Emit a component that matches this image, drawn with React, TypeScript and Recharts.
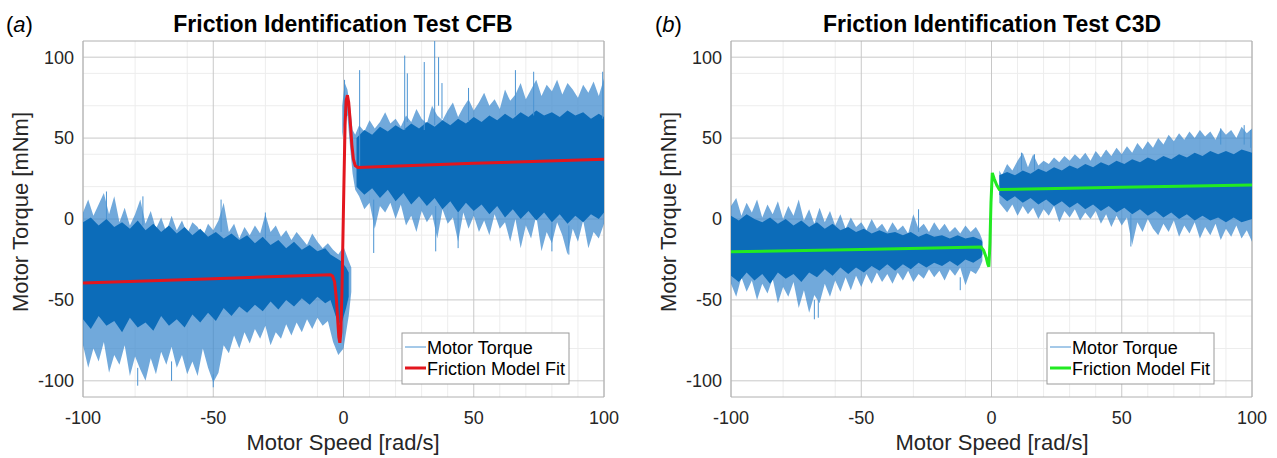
import React from 'react';
import { ComposedChart, Area, Line, XAxis, YAxis, CartesianGrid } from 'recharts';

// ---------- axes ----------
const X_TICKS = [-100, -50, 0, 50, 100];
const Y_TICKS = [-100, -50, 0, 50, 100];
const X_MINOR = [-90, -80, -70, -60, -40, -30, -20, -10, 10, 20, 30, 40, 60, 70, 80, 90];
const Y_MINOR = [-90, -80, -70, -60, -40, -30, -20, -10, 10, 20, 30, 40, 60, 70, 80, 90];
const X_EDGE = [-100, 100];
const Y_EDGE = [-110, 110];

const TITLE_A = 'Friction Identification Test CFB';
const TITLE_B = 'Friction Identification Test C3D';
const X_LABEL = 'Motor Speed [rad/s]';
const Y_LABEL = 'Motor Torque [mNm]';
const LEGEND_ITEMS = ['Motor Torque', 'Friction Model Fit'];

// ---------- panel (a) CFB ----------
// friction model fit [speed, torque]
const FIT_A: number[][] = [
  [-100, -39.5], [-50, -36.9], [-5, -34.4], [-4.2, -35.2], [-3.4, -39], [-2.7, -50], [-2.2, -63],
  [-1.8, -73], [-1.4, -76.5], [-1.0, -70], [-0.6, -45], [-0.2, -10], [0.2, 25], [0.6, 58],
  [1.0, 73], [1.5, 76.5], [2.0, 72], [2.6, 60], [3.2, 46], [3.8, 37], [4.5, 33], [5.5, 31.8],
  [50, 34.4], [100, 37],
];
// measured torque, outer envelope [speed, low, high]
const OUTER_A_NEG: number[][] = [
  [-100, -78, 4], [-98, -92, 12], [-96, -80, 2], [-94, -88, 9], [-92, -76, 16], [-90, -95, 3],
  [-88, -84, 14], [-86, -90, -2], [-84, -78, 7], [-82, -97, -4], [-80, -85, 3], [-78, -93, 12],
  [-76, -100, -3], [-74, -86, 5], [-72, -96, -6], [-70, -82, 1], [-68, -90, -8], [-66, -79, 2],
  [-64, -92, -7], [-62, -84, -1], [-60, -96, -9], [-58, -88, -2], [-56, -97, -5], [-54, -80, -11],
  [-52, -92, -3], [-50, -101, -7], [-48, -95, -1], [-46, -78, 10], [-44, -83, -8], [-42, -72, -3],
  [-40, -80, -12], [-38, -70, -5], [-36, -77, -10], [-34, -68, -4], [-32, -74, -9], [-30, -66, 3],
  [-28, -78, -8], [-26, -70, -4], [-24, -74, -11], [-22, -65, -7], [-20, -72, -13], [-18, -64, -8],
  [-16, -70, -12], [-14, -62, -16], [-12, -68, -9], [-10, -61, -14], [-8, -66, -18], [-6, -63, -15],
  [-4, -76, -19], [-2, -84, -22], [0, -80, -17], [2, -60, -26], [3, -45, -30],
];
// dense part of the measured torque [speed, low, high]
const CORE_A_NEG: number[][] = [
  [-100, -62, -2], [-97, -68, 1], [-94, -60, -4], [-91, -66, 0], [-88, -63, -5], [-85, -70, -2],
  [-82, -61, -6], [-79, -67, -1], [-76, -64, -7], [-73, -69, -3], [-70, -60, -8], [-67, -66, -4],
  [-64, -62, -9], [-61, -67, -5], [-58, -59, -10], [-55, -64, -6], [-52, -58, -11], [-49, -63, -8],
  [-46, -55, -12], [-43, -60, -9], [-40, -54, -13], [-37, -58, -10], [-34, -53, -15], [-31, -57, -11],
  [-28, -51, -16], [-25, -56, -13], [-22, -50, -18], [-19, -54, -14], [-16, -49, -19], [-13, -53, -16],
  [-10, -48, -20], [-7, -52, -18], [-5, -50, -22], [-3, -60, -24], [-1, -66, -26], [1, -55, -30],
  [2, -48, -33],
];
const OUTER_A_POS: number[][] = [
  [-0.5, 50, 70], [0.5, 62, 84], [1.5, 64, 80], [2.5, 45, 70], [3.5, 28, 55], [4.5, 18, 52],
  [6, 14, 58], [8, 6, 54], [10, 10, 61], [12, -6, 56], [14, 8, 60], [16, 4, 66], [18, 10, 59],
  [20, 0, 62], [22, 9, 57], [24, -4, 64], [26, 2, 60], [28, -8, 68], [30, 5, 62], [32, -2, 59],
  [34, 3, 70], [36, -12, 64], [38, 6, 61], [40, -3, 67], [42, 1, 72], [44, -14, 63], [46, 4, 69],
  [48, -6, 74], [50, 2, 67], [52, -8, 72], [54, -1, 78], [56, -10, 70], [58, 3, 74], [60, -6, 68],
  [62, -2, 80], [64, -14, 73], [66, 0, 77], [68, -18, 84], [70, -4, 74], [72, -12, 80], [74, 2, 86],
  [76, -20, 76], [78, -8, 83], [80, -15, 79], [82, -2, 86], [84, -10, 77], [86, -22, 84], [88, -6, 80],
  [90, -14, 75], [92, -1, 83], [94, -18, 78], [96, -8, 85], [98, -12, 76], [100, -3, 87],
];
const CORE_A_POS: number[][] = [
  [5, 20, 50], [8, 15, 55], [11, 19, 52], [14, 13, 57], [17, 18, 54], [20, 11, 58], [23, 16, 55],
  [26, 9, 59], [29, 14, 56], [32, 8, 60], [35, 13, 57], [38, 6, 61], [41, 11, 58], [44, 4, 62],
  [47, 10, 59], [50, 5, 63], [53, 9, 60], [56, 3, 64], [59, 8, 61], [62, 1, 65], [65, 6, 62],
  [68, 0, 66], [71, 5, 63], [74, -1, 67], [77, 4, 64], [80, -2, 66], [83, 3, 63], [86, -3, 67],
  [89, 2, 64], [92, -2, 66], [95, 3, 62], [98, 0, 65], [100, 4, 63],
];
// isolated excursions [speed, from, to]
const SPIKES_A: number[][] = [
  [-91, 0, 17], [-77, -4, 14], [-47, -8, 12], [-30, -12, 4], [-79, -92, -103], [-50, -96, -104],
  [-66, -88, -100], [0.4, 66, 86], [6.2, 32, 92], [11.6, -21, 12], [23.5, 55, 101], [24.5, 60, 90],
  [31, 55, 97], [35, 58, 113], [36.5, 70, 100], [37.8, 62, 84], [35.4, -20, 8], [48, 60, 81],
  [66, 64, 92], [73, 64, 91], [99.5, 62, 91], [44, -18, 4], [80, -20, -2], [86.5, -22, -4],
];

// ---------- panel (b) C3D ----------
const FIT_B: number[][] = [
  [-100, -20.3], [-50, -18.8], [-4, -17.3], [-3, -19.5], [-2, -24], [-1.4, -28], [-1, -29.5],
  [-0.6, -15], [-0.2, 10], [0.3, 28.5], [1, 25], [2, 21], [3, 18.2], [50, 19.6], [100, 21],
];
const OUTER_B_NEG: number[][] = [
  [-100, -40, 8], [-98, -48, 13], [-96, -36, 2], [-94, -45, 10], [-92, -38, 4], [-90, -50, 12],
  [-88, -40, 1], [-86, -46, 9], [-84, -37, 3], [-82, -52, 11], [-80, -42, 0], [-78, -48, 8],
  [-76, -39, 2], [-74, -55, 12], [-72, -44, -1], [-70, -58, 6], [-68, -47, -3], [-66, -52, 7],
  [-64, -40, -2], [-62, -48, 5], [-60, -38, -4], [-58, -45, 3], [-56, -36, -6], [-54, -44, 1],
  [-52, -35, -5], [-50, -42, -2], [-48, -34, -7], [-46, -40, 0], [-44, -33, -6], [-42, -39, -3],
  [-40, -34, -8], [-38, -40, -2], [-36, -33, -7], [-34, -38, -4], [-32, -32, -9], [-30, -39, 3],
  [-28, -34, -6], [-26, -37, -3], [-24, -31, -8], [-22, -36, -2], [-20, -32, -7], [-18, -38, -3],
  [-16, -31, -8], [-14, -35, -5], [-12, -30, -9], [-10, -41, -4], [-8, -32, -8], [-6, -34, -5],
  [-4.5, -30, -9], [-3.5, -26, -13],
];
const CORE_B_NEG: number[][] = [
  [-100, -35, 2], [-97, -39, -1], [-94, -33, 3], [-91, -38, 0], [-88, -34, -2], [-85, -40, 1],
  [-82, -33, -3], [-79, -37, 0], [-76, -34, -4], [-73, -39, -1], [-70, -33, -5], [-67, -36, -2],
  [-64, -31, -6], [-61, -35, -3], [-58, -30, -7], [-55, -34, -5], [-52, -30, -8], [-49, -33, -6],
  [-46, -29, -9], [-43, -32, -7], [-40, -28, -9], [-37, -32, -8], [-34, -28, -10], [-31, -31, -8],
  [-28, -27, -11], [-25, -30, -9], [-22, -27, -11], [-19, -29, -10], [-16, -26, -12], [-13, -29, -10],
  [-10, -25, -12], [-7, -27, -11], [-4, -24, -13], [-3.5, -22, -14],
];
const OUTER_B_POS: number[][] = [
  [3, 10, 30], [4, 8, 27], [6, 4, 34], [8, 9, 30], [10, 2, 36], [12, 8, 41], [14, 3, 32],
  [16, 7, 40], [18, 0, 33], [20, 6, 36], [22, 2, 34], [24, 8, 38], [26, -2, 35], [28, 5, 39],
  [30, 1, 36], [32, 6, 40], [34, -1, 37], [36, 4, 41], [38, 0, 36], [40, 5, 42], [42, -3, 38],
  [44, 3, 43], [46, -5, 39], [48, 2, 44], [50, -4, 40], [52, 1, 45], [54, -16, 41], [56, -2, 47],
  [58, -8, 43], [60, 0, 48], [62, -6, 44], [64, -10, 50], [66, -3, 46], [68, -8, 52], [70, -1, 48],
  [72, -11, 53], [74, -4, 49], [76, -9, 54], [78, -2, 50], [80, -12, 55], [82, -5, 51], [84, -10, 54],
  [86, -3, 49], [88, -13, 56], [90, -6, 52], [92, -11, 55], [94, -4, 50], [96, -12, 57], [98, -7, 53],
  [100, -14, 56],
];
const CORE_B_POS: number[][] = [
  [3, 15, 27], [6, 11, 29], [9, 14, 27], [12, 10, 30], [15, 13, 28], [18, 9, 31], [21, 12, 29],
  [24, 8, 32], [27, 11, 30], [30, 7, 33], [33, 10, 31], [36, 6, 34], [39, 9, 32], [42, 5, 35],
  [45, 8, 33], [48, 4, 36], [51, 7, 34], [54, 3, 37], [57, 6, 35], [60, 2, 38], [63, 5, 36],
  [66, 1, 39], [69, 4, 37], [72, 0, 40], [75, 3, 38], [78, -1, 41], [81, 2, 39], [84, -1, 42],
  [87, 1, 40], [90, -2, 42], [93, 1, 40], [96, -2, 43], [100, 0, 41],
];
const SPIKES_B: number[][] = [
  [-68, -50, -62], [-66.5, -50, -61], [-28, -8, 6], [-12, -36, -44], [11.5, 30, 41], [16.5, 30, 40],
  [53.5, -17, 3], [88, 46, 56], [97, 46, 58], [99.5, 44, 55],
];

// ---------- styling ----------
const FONT = '"Liberation Sans", Arial, Helvetica, sans-serif';
const CORE_BLUE = '#0c6cb9';
const OUTER_BLUE = '#3a88cd';
const SPIKE_BLUE = '#4b93d2';
const RED = '#e3161e';
const GREEN = '#22ea22';
const TXT = '#262626';

const toRange = (rows: number[][]) => rows.map(([x, lo, hi]) => ({ x, r: [lo, hi] }));
const toLine = (rows: number[][]) => rows.map(([x, y]) => ({ x, y }));
const toSpikes = (rows: number[][]) => {
  const out: { x: number; y: number | null }[] = [];
  rows.forEach(([x, a, b]) => {
    out.push({ x, y: a });
    out.push({ x, y: b });
    out.push({ x, y: null });
  });
  return out;
};

type PanelProps = {
  width: number;
  axisWidth: number;
  marginRight: number;
  fit: number[][];
  fitColor: string;
  outerNeg: number[][];
  coreNeg: number[][];
  outerPos: number[][];
  corePos: number[][];
  spikes: number[][];
};

function Panel(p: PanelProps) {
  return (
    <ComposedChart
      width={p.width}
      height={458}
      margin={{ top: 41, right: p.marginRight, bottom: 0, left: 0 }}
      style={{ fontFamily: FONT }}
    >
      <CartesianGrid verticalValues={X_MINOR} horizontalValues={Y_MINOR} stroke="#ededed" strokeWidth={1} />
      <CartesianGrid verticalValues={X_TICKS} horizontalValues={Y_TICKS} stroke="#c8c8c8" strokeWidth={1} />
      <CartesianGrid verticalValues={X_EDGE} horizontalValues={Y_EDGE} stroke="#b0b0b0" strokeWidth={1} />
      <XAxis
        type="number"
        dataKey="x"
        domain={[-100, 100]}
        ticks={X_TICKS}
        allowDataOverflow
        height={61}
        axisLine={false}
        tickLine={false}
        tickSize={0}
        tickMargin={14}
        tick={{ fontSize: 18, fill: TXT, fontFamily: FONT }}
      />
      <YAxis
        type="number"
        domain={[-110, 110]}
        ticks={Y_TICKS}
        allowDataOverflow
        width={p.axisWidth}
        axisLine={false}
        tickLine={false}
        tickSize={0}
        tickMargin={9}
        tick={{ fontSize: 18, fill: TXT, fontFamily: FONT }}
      />
      <Area data={toRange(p.outerNeg)} dataKey="r" type="linear" stroke="none" fill={OUTER_BLUE} fillOpacity={0.72} isAnimationActive={false} dot={false} activeDot={false} />
      <Area data={toRange(p.outerPos)} dataKey="r" type="linear" stroke="none" fill={OUTER_BLUE} fillOpacity={0.72} isAnimationActive={false} dot={false} activeDot={false} />
      <Area data={toRange(p.coreNeg)} dataKey="r" type="linear" stroke="none" fill={CORE_BLUE} fillOpacity={1} isAnimationActive={false} dot={false} activeDot={false} />
      <Area data={toRange(p.corePos)} dataKey="r" type="linear" stroke="none" fill={CORE_BLUE} fillOpacity={1} isAnimationActive={false} dot={false} activeDot={false} />
      <Line data={toSpikes(p.spikes)} dataKey="y" type="linear" stroke={SPIKE_BLUE} strokeWidth={1} dot={false} activeDot={false} connectNulls={false} isAnimationActive={false} />
      <Line data={toLine(p.fit)} dataKey="y" type="linear" stroke={p.fitColor} strokeWidth={3} dot={false} activeDot={false} isAnimationActive={false} />
    </ComposedChart>
  );
}

function LegendBox({ x, color }: { x: number; color: string }) {
  return (
    <g>
      <rect x={x} y={333} width={167} height={51} fill="#ffffff" stroke="#9a9a9a" strokeWidth={1} />
      <line x1={x + 3} x2={x + 24} y1={347} y2={347} stroke={SPIKE_BLUE} strokeWidth={1} />
      <text x={x + 25} y={353.5} fontSize={18} fill="#000">{LEGEND_ITEMS[0]}</text>
      <line x1={x + 3} x2={x + 24} y1={368} y2={368} stroke={color} strokeWidth={3} />
      <text x={x + 25} y={375} fontSize={18} fill="#000">{LEGEND_ITEMS[1]}</text>
    </g>
  );
}

export default function App() {
  return (
    <div style={{ position: 'absolute', left: 0, top: 0, width: 1277, height: 458, background: '#fff', fontFamily: FONT, overflow: 'hidden' }}>
      <div style={{ position: 'absolute', left: 0, top: 0 }}>
        <Panel width={640} axisWidth={83} marginRight={36} fit={FIT_A} fitColor={RED}
          outerNeg={OUTER_A_NEG} coreNeg={CORE_A_NEG} outerPos={OUTER_A_POS} corePos={CORE_A_POS} spikes={SPIKES_A} />
      </div>
      <div style={{ position: 'absolute', left: 640, top: 0 }}>
        <Panel width={637} axisWidth={91} marginRight={25} fit={FIT_B} fitColor={GREEN}
          outerNeg={OUTER_B_NEG} coreNeg={CORE_B_NEG} outerPos={OUTER_B_POS} corePos={CORE_B_POS} spikes={SPIKES_B} />
      </div>
      <svg width={1277} height={458} style={{ position: 'absolute', left: 0, top: 0, pointerEvents: 'none', fontFamily: FONT }}>
        <text x={6} y={32} fontSize={22} fill="#000">(<tspan fontStyle="italic">a</tspan>)</text>
        <text x={655} y={32} fontSize={22} fill="#000">(<tspan fontStyle="italic">b</tspan>)</text>
        <text x={343} y={32} fontSize={23} fontWeight="bold" textAnchor="middle" fill="#000">{TITLE_A}</text>
        <text x={992} y={32} fontSize={23} fontWeight="bold" textAnchor="middle" fill="#000">{TITLE_B}</text>
        <text x={343} y={450} fontSize={22} textAnchor="middle" fill={TXT}>{X_LABEL}</text>
        <text x={992} y={450} fontSize={22} textAnchor="middle" fill={TXT}>{X_LABEL}</text>
        <text transform="translate(28,212) rotate(-90)" fontSize={22} textAnchor="middle" fill={TXT}>{Y_LABEL}</text>
        <text transform="translate(676,212) rotate(-90)" fontSize={22} textAnchor="middle" fill={TXT}>{Y_LABEL}</text>
        <LegendBox x={402} color={RED} />
        <LegendBox x={1047} color={GREEN} />
      </svg>
    </div>
  );
}
